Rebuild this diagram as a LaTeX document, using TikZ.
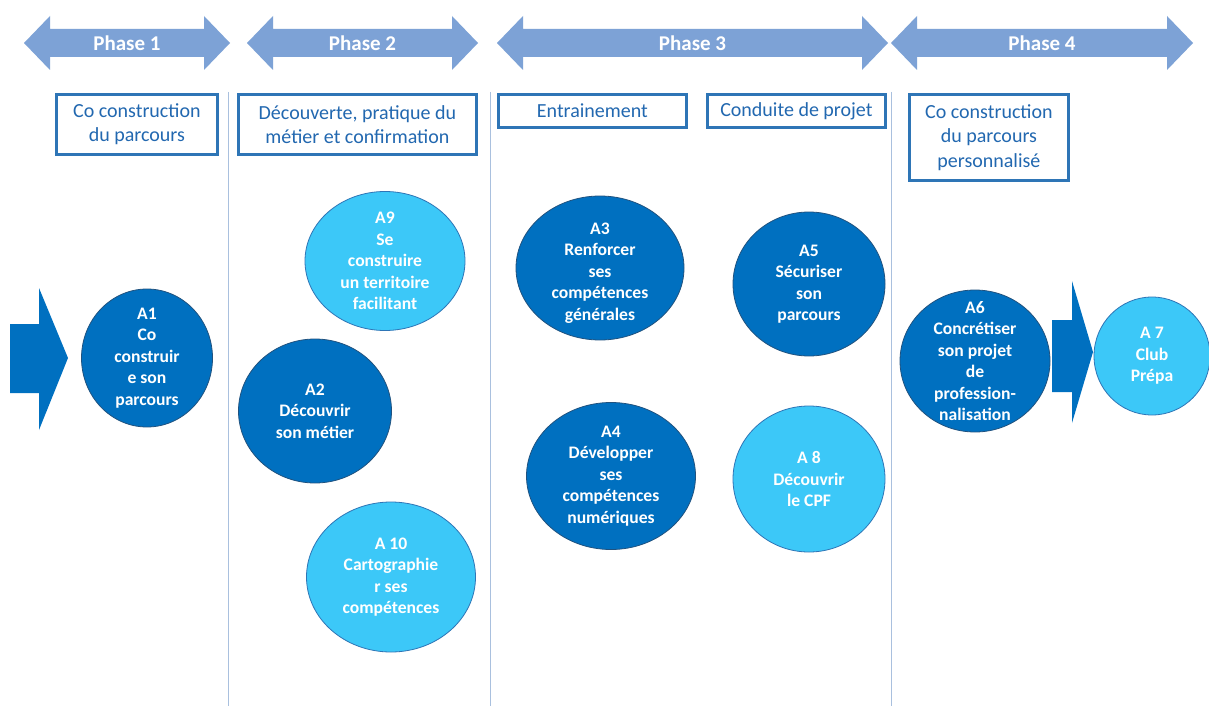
\documentclass[tikz,border=0pt]{standalone}
\usepackage{fontspec}
\setmainfont{Carlito}
\usetikzlibrary{shapes.geometric}
\definecolor{phasec}{HTML}{7DA2D6}
\definecolor{darkc}{HTML}{0070C0}
\definecolor{lightc}{HTML}{3CC8F8}
\definecolor{boxc}{HTML}{2E75B6}
\definecolor{boxtext}{HTML}{2268B0}
\definecolor{sepc}{HTML}{A9C0DE}
\newcommand\phasearrow[4]{%
  \fill[phasec] (#1,43) -- (#1+26,16) -- (#1+26,29) -- (#2-26,29) -- (#2-26,16)
     -- (#2,43) -- (#2-26,70) -- (#2-26,57) -- (#1+26,57) -- (#1+26,70) -- cycle;
  \node[phaselabel] (#3) at ({(#1+#2)/2},43) {#4};}
\begin{document}
\begin{tikzpicture}[x=1pt,y=-1pt,
  phaselabel/.style={text=white, font=\bfseries\fontsize{21}{24}\selectfont, inner sep=0pt},
  actbase/.style={ellipse, line width=0.8pt, inner sep=0pt},
  actdark/.style={actbase, fill=darkc, draw=boxc!70!black},
  actlight/.style={actbase, fill=lightc, draw=boxc},
  acttext/.style={text=white, align=center, font=\bfseries\fontsize{17.6}{21.5}\selectfont, inner sep=0pt},
  phbox/.style={draw=boxc, line width=2.8pt, fill=white, text=boxtext, align=center,
     font=\fontsize{20}{24.5}\selectfont, inner sep=0pt, anchor=north west},
  sepline/.style={draw=sepc, line width=1pt},
  blockarrow/.style={fill=darkc}
]
\useasboundingbox (0,0) rectangle (1209,706);
\fill[white] (0,0) rectangle (1209,706);

% phase arrows
\phasearrow{24}{230}{ph1}{Phase 1}
\phasearrow{247}{478}{ph2}{Phase 2}
\phasearrow{497}{888}{ph3}{Phase 3}
\phasearrow{891}{1193}{ph4}{Phase 4}

% separators
\draw[sepline] (228,92) -- (228,706);
\draw[sepline] (490,92) -- (490,706);
\draw[sepline] (891,92) -- (891,706);

% boxes
\node[phbox, minimum width=161pt, minimum height=60pt] (b1) at (55,93) {Co construction\\du parcours};
\node[phbox, minimum width=238pt, minimum height=60pt] (b2) at (237,93) {Découverte, pratique du\\métier et confirmation};
\node[phbox, minimum width=188pt, minimum height=33pt] (b3) at (497,93) {Entrainement};
\node[phbox, minimum width=178pt, minimum height=33pt] (b4) at (706,93) {Conduite de projet};
\node[phbox, minimum width=159pt, minimum height=86pt] (b5) at (908,93) {Co construction\\du parcours\\personnalisé};

% entry arrow
\fill[blockarrow] (10,324) -- (39,324) -- (39,288) -- (68,358) -- (39,430) -- (39,393) -- (10,393) -- cycle;

% activities
\node[actdark, minimum width=131pt, minimum height=138pt] (a1) at (147,358) {};
\node[acttext] (t1) at (a1.center) {A1\\Co\\construir\\e son\\parcours};

\node[actlight, minimum width=160pt, minimum height=139pt] (a9) at (385,261) {};
\node[acttext] (t9) at (a9.center) {A9\\Se\\construire\\un territoire\\facilitant};

\node[actdark, minimum width=153pt, minimum height=144pt] (a2) at (315,411) {};
\node[acttext] (t2) at (a2.center) {A2\\Découvrir\\son métier};

\node[actlight, minimum width=169pt, minimum height=150pt] (a10) at (391,577) {};
\node[acttext] (t10) at (a10.center) {A 10\\Cartographie\\r ses\\compétences};

\node[actdark, minimum width=168pt, minimum height=144pt] (a3) at (600,268) {};
\node[acttext] (t3) at ([yshift=-5pt]a3.center) {A3\\Renforcer\\ses\\compétences\\générales};

\node[actdark, minimum width=169pt, minimum height=147pt] (a4) at (611,476) {};
\node[acttext] (t4) at (a4.center) {A4\\Développer\\ses\\compétences\\numériques};

\node[actdark, minimum width=152pt, minimum height=144pt] (a5) at (809,284) {};
\node[acttext] (t5) at (a5.center) {A5\\Sécuriser\\son\\parcours};

\node[actlight, minimum width=152pt, minimum height=146pt] (a8) at (809,479) {};
\node[acttext] (t8) at (a8.center) {A 8\\Découvrir\\le CPF};

\node[actdark, minimum width=150pt, minimum height=142pt] (a6) at (975,361) {};
\node[acttext] (t6) at (a6.center) {A6\\Concrétiser\\son projet\\de\\profession-\\nalisation};

\node[actlight, minimum width=116pt, minimum height=118pt] (a7) at (1152,356) {};
\node[acttext] (t7) at (a7.center) {A 7\\Club\\Prépa};

% arrow A6 -> A7
\fill[blockarrow] (1052,320) -- (1072,320) -- (1072,281) -- (1093,352) -- (1072,423) -- (1072,392) -- (1052,392) -- cycle;
\end{tikzpicture}
\end{document}
